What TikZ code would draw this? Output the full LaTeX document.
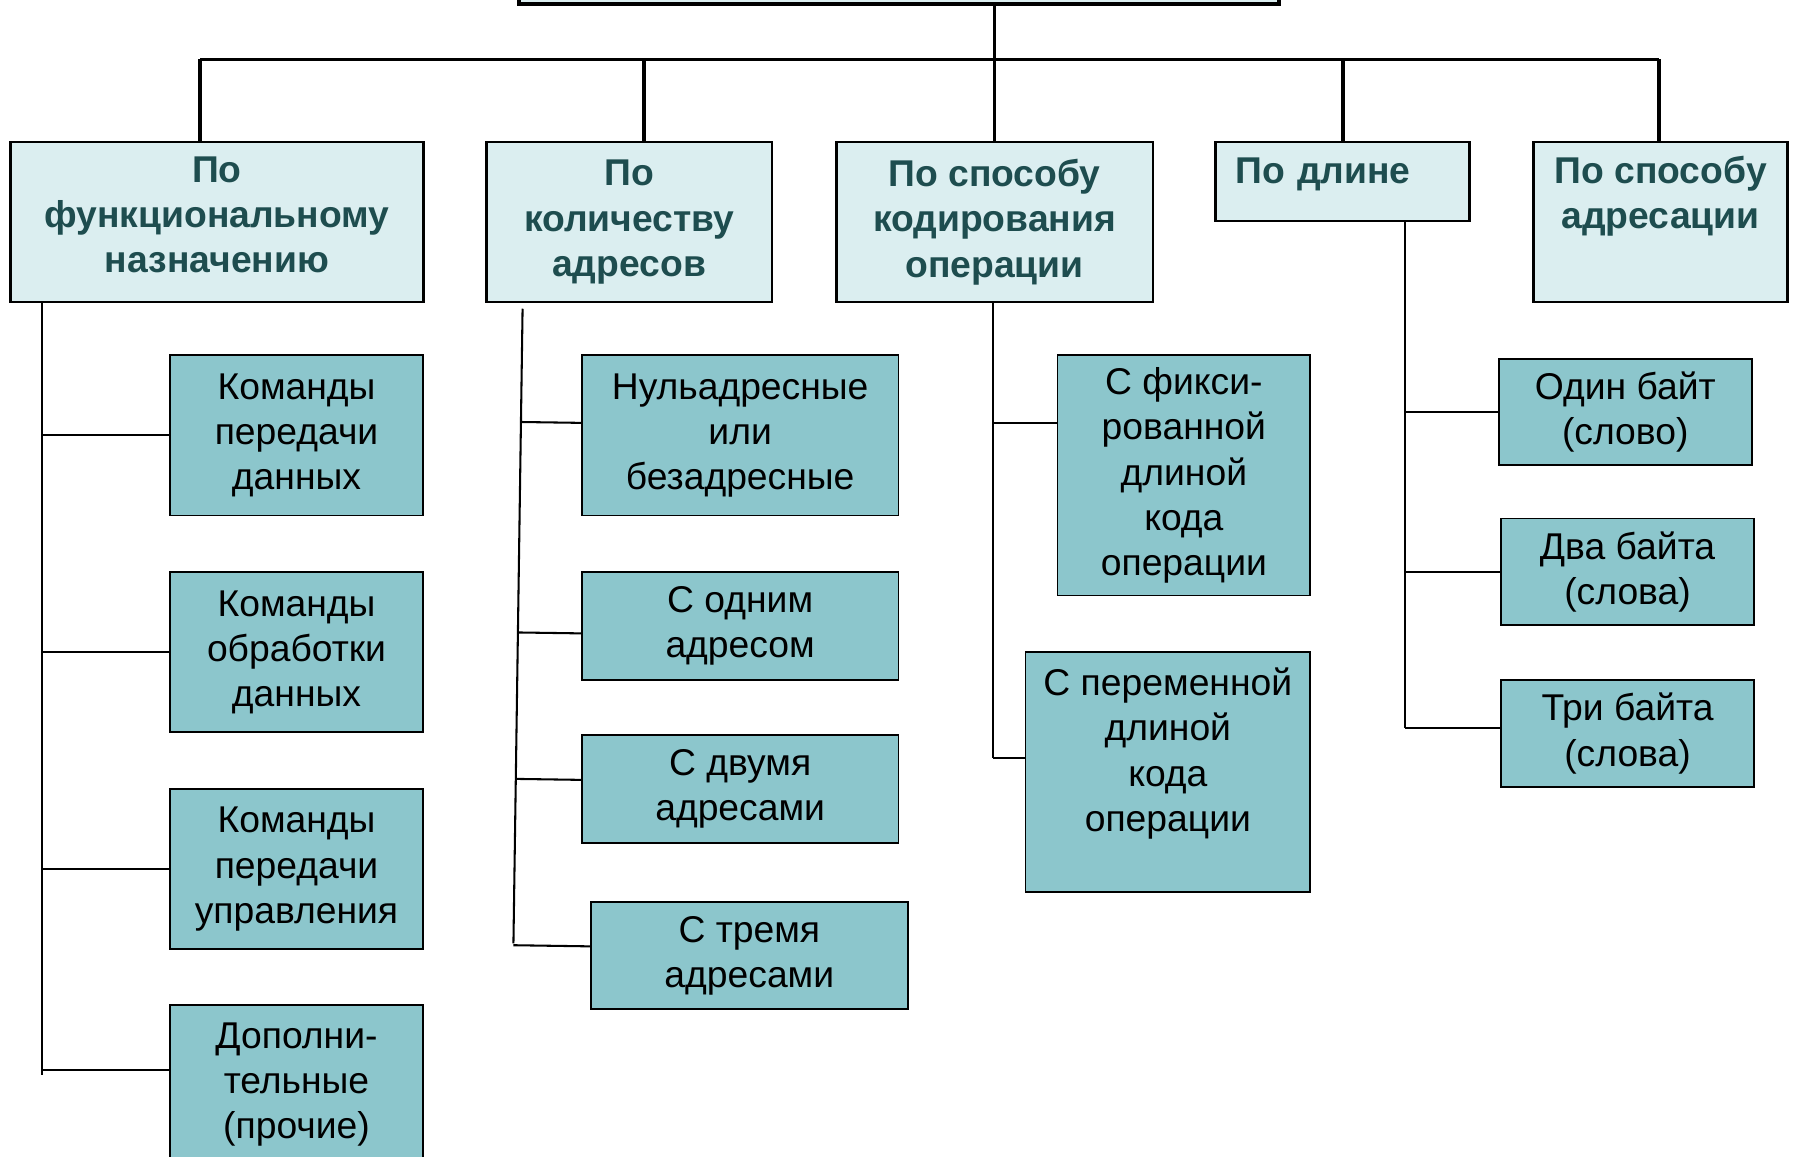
\documentclass[tikz,border=0pt]{standalone}
\usepackage{fontspec}
\setmainfont{Liberation Sans}
\usepackage{xcolor}
\usepackage{tikz}
\usetikzlibrary{positioning,calc}
\definecolor{hdrfill}{HTML}{DBEEF0}
\definecolor{hdrtext}{HTML}{1E4D4F}
\definecolor{itemfill}{HTML}{8CC6CC}

\begin{document}
\begin{tikzpicture}[
  x=0.5pt, y=-0.5pt,
  hdr/.style={draw, line width=1.2pt, fill=hdrfill, text=hdrtext, align=center, anchor=north west,
    font=\bfseries\fontsize{16.3}{19.75}\selectfont, minimum height=70pt, inner sep=2pt},
  item/.style={draw, line width=0.8pt, fill=itemfill, align=center, inner sep=2pt,
    font=\fontsize{16.3}{19.75}\selectfont},
  bus/.style={line width=1.6pt},
  conn/.style={line width=0.9pt}]
\useasboundingbox (0,0) rectangle (1568,1011);
% top tier
\node[hdr, anchor=south west, minimum width=332.5pt, minimum height=30pt, line width=1.6pt] (root) at (452,5) {};
\node[hdr, minimum width=180.5pt, text depth=6.5pt] (lvA) at (8,123) {По\\функциональному\\назначению};
\node[hdr, minimum width=125pt] (lvB) at (424,123) {По\\количеству\\адресов};
\node[hdr, minimum width=138.5pt] (lvC) at (730,123) {По способу\\кодирования\\операции};
\node[hdr, minimum height=34.5pt, text width=94pt, align=left, inner xsep=8.5pt, text depth=9.5pt] (lvD) at (1062,123) {По длине};
\node[hdr, minimum width=111pt, text depth=6.5pt] (lvE) at (1340,123) {По способу\\адресации\\\mbox{}};
\coordinate (busL) at (175,52);
\coordinate (busR) at (1451,52);
\coordinate (dropB) at (563,52);
\draw[bus] (busL) -- (busR);
\draw[bus] (lvC.north |- root.south) -- (lvC.north);
\draw[bus] (busL) -- (busL |- lvA.north);
\draw[bus] (dropB) -- (dropB |- lvB.north);
\draw[bus] (lvD.north |- busL) -- (lvD.north);
\draw[bus] (busR) -- (busR |- lvE.north);
% by function
\node[item, anchor=north west, minimum width=110.5pt, minimum height=70pt] (a1) at (148,310) {Команды\\передачи\\данных};
\node[item, below=24pt of a1, minimum width=110.5pt, minimum height=70pt] (a2) {Команды\\обработки\\данных};
\node[item, below=24pt of a2, minimum width=110.5pt, minimum height=70pt] (a3) {Команды\\передачи\\управления};
\node[item, below=23.5pt of a3, minimum width=110.5pt, minimum height=70pt] (a4) {Дополни-\\тельные\\(прочие)};
\coordinate (aEnd) at (37,940);
\draw[conn] (aEnd |- lvA.south) -- (aEnd);
\draw[conn] (aEnd |- a1.west) -- (a1.west);
\draw[conn] (aEnd |- a2.west) -- (a2.west);
\draw[conn] (aEnd |- a3.west) -- (a3.west);
\draw[conn] ([yshift=6.5pt]aEnd |- a4.west) -- ([yshift=6.5pt]a4.west);
% by number of addresses
\node[item, anchor=north west, minimum width=138.5pt, minimum height=70pt] (b1) at (508,310) {Нульадресные\\или\\безадресные};
\node[item, below=24pt of b1, minimum width=138.5pt, minimum height=47pt] (b2) {С одним\\адресом};
\node[item, below=23.5pt of b2, minimum width=138.5pt, minimum height=47pt] (b3) {С двумя\\адресами};
\node[item, below=25pt of b3, xshift=4pt, minimum width=138.5pt, minimum height=47pt] (b4) {С тремя\\адресами};
\coordinate (bTop) at (457,270);
\coordinate (bEnd) at (449,825);
\draw[conn] (bTop) -- (bEnd);
\draw[conn] ($(bTop)!([yshift=5.5pt]b1.west)!(bEnd)$) -- ([yshift=5.5pt]b1.west);
\draw[conn] ($(bTop)!([yshift=-3.25pt]b2.west)!(bEnd)$) -- ([yshift=-3.25pt]b2.west);
\draw[conn] ($(bTop)!([yshift=4pt]b3.west)!(bEnd)$) -- ([yshift=4pt]b3.west);
\draw[conn] ($(bTop)!([yshift=4pt]b4.west)!(bEnd)$) -- ([yshift=4pt]b4.west);
% by opcode coding
\node[item, anchor=north west, minimum width=110.5pt, minimum height=105pt] (c1) at (924,310) {С фикси-\\рованной\\длиной\\кода\\операции};
\node[item, below=24pt of c1.south east, anchor=north east, minimum width=124.5pt, minimum height=105pt] (c2) {С переменной\\длиной\\кода\\операции\\\mbox{}};
\coordinate (cEnd) at (868,663);
\draw[conn] (cEnd |- lvC.south) -- (cEnd);
\draw[conn] ([yshift=23pt]cEnd |- c1.west) -- ([yshift=23pt]c1.west);
\draw[conn] (cEnd) -- (cEnd -| c2.west);
% by length
\node[item, anchor=north west, minimum width=110.5pt, minimum height=46.5pt] (d1) at (1310,313) {Один байт\\(слово)};
\node[item, below=22.5pt of d1, xshift=1pt, minimum width=110.5pt, minimum height=46.5pt] (d2) {Два байта\\(слова)};
\node[item, below=23.5pt of d2, minimum width=110.5pt, minimum height=46.5pt] (d3) {Три байта\\(слова)};
\coordinate (dEnd) at (1229,637);
\draw[conn] (dEnd |- lvD.south) -- (dEnd);
\draw[conn] (dEnd |- d1.west) -- (d1.west);
\draw[conn] (dEnd |- d2.west) -- (d2.west);
\draw[conn] (dEnd) -- (dEnd -| d3.west);
\end{tikzpicture}
\end{document}
